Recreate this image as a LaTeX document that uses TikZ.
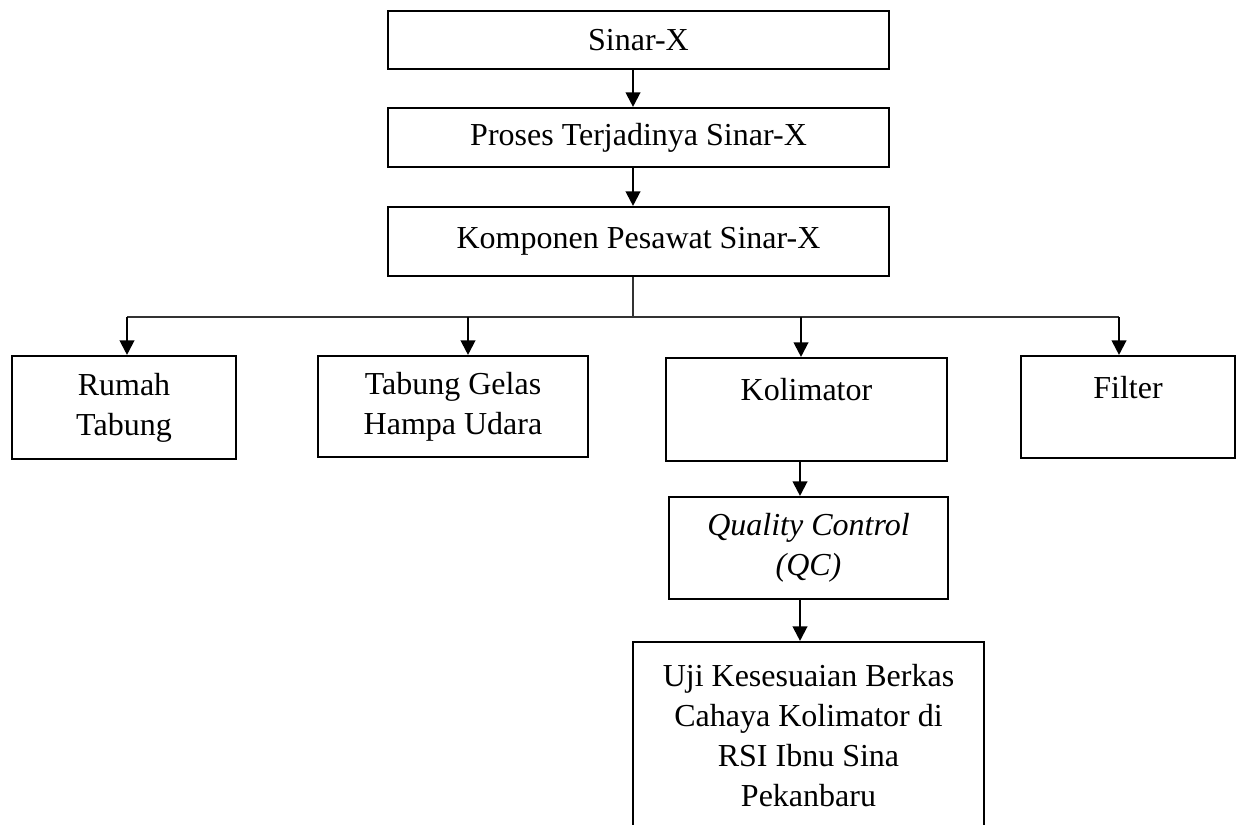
\documentclass[tikz,border=0pt]{standalone}
\usepackage{fontspec}
\setmainfont{Liberation Serif}
\usetikzlibrary{arrows.meta,positioning,calc}
\newcommand{\pxu}{0.375pt}
\tikzset{
  box/.style={rectangle, draw=black, line width=0.8pt, align=center, inner sep=0pt,
    font=\fontsize{12}{15}\selectfont},
  flow/.style={-{Triangle[length=5.5pt,width=5.5pt]}, line width=0.8pt, draw=black},
  bus/.style={line width=0.6pt, draw=black!80},
}
\begin{document}
\begin{tikzpicture}[x=\pxu, y=-\pxu]
  \useasboundingbox (0,0) rectangle (1240,824);
  % top chain
  \node[box, minimum width=501*\pxu, minimum height=58*\pxu] (sinar) at (638.5,40) {Sinar-X};
  \node[box, minimum width=501*\pxu, minimum height=59*\pxu] (proses) at (638.5,137.5) {Proses Terjadinya Sinar-X};
  \node[box, minimum width=501*\pxu, minimum height=69*\pxu] (komp) at (638.5,241.5) {Komponen Pesawat Sinar-X};
  \coordinate (stem) at (633,317);
  \draw[flow] (sinar.south -| stem) -- (proses.north -| stem);
  \draw[flow] (proses.south -| stem) -- (komp.north -| stem);
  % components
  \node[box, minimum width=224*\pxu, minimum height=103*\pxu] (rumah) at (124,407.5) {Rumah\\Tabung};
  \node[box, minimum width=270*\pxu, minimum height=101*\pxu] (tabung) at (453,406.5) {Tabung Gelas\\Hampa Udara};
  \node[box, minimum width=281*\pxu, minimum height=103*\pxu] (kolim) at (806.5,409.5) {Kolimator\\~};
  \node[box, minimum width=214*\pxu, minimum height=102*\pxu] (filter) at (1128,407) {Filter\\~};
  \coordinate (ra) at (127,317);
  \coordinate (ta) at (468,317);
  \coordinate (ka) at (801,317);
  \coordinate (fa) at (1119,317);
  \draw[bus] (komp.south -| stem) -- (stem);
  \draw[bus] (ra) -- (fa);
  \foreach \c/\n in {ra/rumah, ta/tabung, ka/kolim, fa/filter}
    \draw[flow] (\c) -- (\c |- \n.north);
  % lower chain
  \node[box, minimum width=279*\pxu, minimum height=102*\pxu] (qc) at (808.5,548) {\textit{Quality Control}\\\textit{(QC)}};
  \node[box, minimum width=351*\pxu, minimum height=188*\pxu] (uji) at (808.5,736)
    {Uji Kesesuaian Berkas\\Cahaya Kolimator di\\RSI Ibnu Sina\\Pekanbaru};
  \coordinate (low) at (800,0);
  \draw[flow] (kolim.south -| low) -- (qc.north -| low);
  \draw[flow] (qc.south -| low) -- (uji.north -| low);
\end{tikzpicture}
\end{document}
